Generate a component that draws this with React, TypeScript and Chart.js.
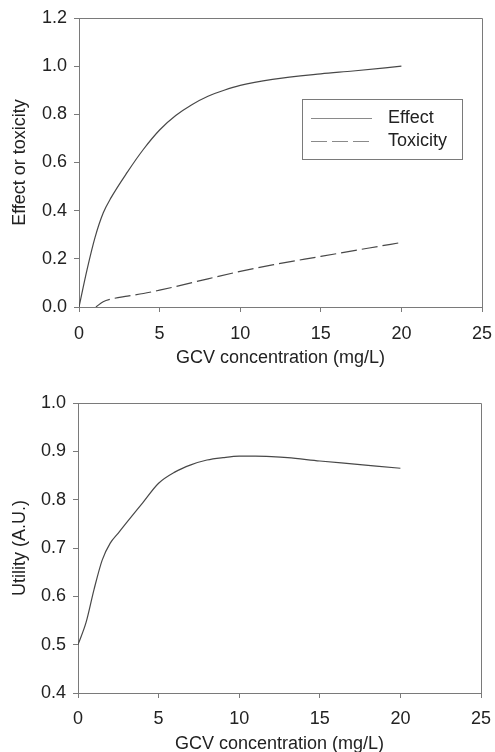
import React, { useEffect, useRef } from "react";
import { Chart, registerables } from "chart.js";

Chart.register(...registerables);

// ---- Data ----
const effectX = [0, 0.5, 1, 1.5, 2, 3, 4, 5, 6, 7, 8, 9, 10, 12, 15, 17, 20];
const effectY = [0, 0.155, 0.29, 0.39, 0.455, 0.56, 0.655, 0.735, 0.795, 0.84, 0.875, 0.9, 0.92, 0.945, 0.968, 0.98, 1.0];

const toxX = [1.05, 1.5, 2, 3, 4, 5, 6, 8, 10, 12, 15, 18, 20];
const toxY = [0, 0.022, 0.033, 0.045, 0.056, 0.07, 0.085, 0.117, 0.148, 0.175, 0.21, 0.245, 0.268];

const utilX = [0, 0.5, 1, 1.5, 2, 2.5, 3, 4, 5, 6, 7, 8, 9, 10, 11, 12, 13, 15, 17, 20];
const utilY = [0.5, 0.546, 0.615, 0.675, 0.71, 0.731, 0.752, 0.793, 0.834, 0.857, 0.872, 0.882, 0.887, 0.89, 0.89, 0.889, 0.887, 0.88, 0.874, 0.865];

const xTicks = [0, 5, 10, 15, 20, 25];
const topYTicks = [0, 0.2, 0.4, 0.6, 0.8, 1.0, 1.2];
const bottomYTicks = [0.4, 0.5, 0.6, 0.7, 0.8, 0.9, 1.0];

const seriesLabels = ["Effect", "Toxicity"];
const xTitle = "GCV concentration (mg/L)";
const topYTitle = "Effect or toxicity";
const bottomYTitle = "Utility (A.U.)";

const FONT = "'Liberation Sans', Arial, Helvetica, sans-serif";
const TEXT = "#222222";
const AXIS = "#7a7a7a";
const LINE = "#484848";

const pts = (xs: number[], ys: number[]) => xs.map((x, i) => ({ x, y: ys[i] }));

const framePlugin = {
  id: "frame",
  afterDatasetsDraw(chart: any) {
    const { ctx, chartArea } = chart;
    const l = Math.round(chartArea.left) + 0.5;
    const r = Math.round(chartArea.right) + 0.5;
    const t = Math.round(chartArea.top) + 0.5;
    const b = Math.round(chartArea.bottom) + 0.5;
    ctx.save();
    ctx.strokeStyle = AXIS;
    ctx.lineWidth = 1;
    ctx.beginPath();
    ctx.moveTo(l, t);
    ctx.lineTo(r, t);
    ctx.lineTo(r, b);
    ctx.stroke();
    ctx.restore();
  },
};

const boxLegendPlugin = {
  id: "boxLegend",
  afterDatasetsDraw(chart: any) {
    const opts = chart.options.plugins.boxLegend;
    if (!opts || !opts.show) return;
    const { ctx, chartArea } = chart;
    const bx = Math.round(chartArea.left + 223);
    const by = Math.round(chartArea.top + 81);
    const bw = 160;
    const bh = 60;
    ctx.save();
    ctx.fillStyle = "#ffffff";
    ctx.fillRect(bx, by, bw, bh);
    ctx.strokeStyle = AXIS;
    ctx.lineWidth = 1;
    ctx.strokeRect(bx + 0.5, by + 0.5, bw, bh);
    chart.data.datasets.forEach((ds: any, i: number) => {
      const cy = Math.round(by + 19 + i * 23) + 0.5;
      ctx.strokeStyle = "#8a8a8a";
      ctx.lineWidth = 1;
      ctx.setLineDash(ds.borderDash || []);
      ctx.beginPath();
      ctx.moveTo(bx + 9, cy);
      ctx.lineTo(bx + 70, cy);
      ctx.stroke();
      ctx.setLineDash([]);
      ctx.fillStyle = TEXT;
      ctx.font = `18px ${FONT}`;
      ctx.textBaseline = "middle";
      ctx.textAlign = "left";
      ctx.fillText(ds.label, bx + 86, cy);
    });
    ctx.restore();
  },
};

function makeConfig(
  datasets: any[],
  yMin: number,
  yMax: number,
  yTicks: number[],
  yTitle: string,
  pad: { top: number; right: number },
  yWidth: number,
  xHeight: number,
  xTickPad: number,
  xTitlePadBottom: number,
  showLegend: boolean
): any {
  return {
    type: "line",
    data: { datasets },
    plugins: [framePlugin, boxLegendPlugin],
    options: {
      responsive: false,
      animation: false,
      events: [],
      layout: { padding: { top: pad.top, right: pad.right, left: 0, bottom: 0 } },
      plugins: {
        legend: { display: false },
        tooltip: { enabled: false },
        boxLegend: { show: showLegend },
      },
      elements: { point: { radius: 0 } },
      scales: {
        x: {
          type: "linear",
          min: 0,
          max: 25,
          afterBuildTicks(scale: any) {
            scale.ticks = xTicks.map((v) => ({ value: v }));
          },
          afterFit(scale: any) {
            scale.height = xHeight;
            scale.paddingLeft = 0;
            scale.paddingRight = 0;
          },
          ticks: {
            color: TEXT,
            font: { family: FONT, size: 18 },
            padding: xTickPad,
            maxRotation: 0,
            callback: (v: number) => String(v),
          },
          grid: { drawOnChartArea: false, drawTicks: true, tickLength: 5, color: AXIS },
          border: { display: true, color: AXIS },
          title: {
            display: true,
            text: xTitle,
            color: TEXT,
            font: { family: FONT, size: 18 },
            padding: { top: 0, bottom: xTitlePadBottom },
          },
        },
        y: {
          type: "linear",
          min: yMin,
          max: yMax,
          afterBuildTicks(scale: any) {
            scale.ticks = yTicks.map((v) => ({ value: v }));
          },
          afterFit(scale: any) {
            scale.width = yWidth;
            scale.paddingTop = 0;
            scale.paddingBottom = 0;
          },
          ticks: {
            color: TEXT,
            font: { family: FONT, size: 18 },
            padding: 7,
            callback: (v: number) => Number(v).toFixed(1),
          },
          grid: { drawOnChartArea: false, drawTicks: true, tickLength: 5, color: AXIS },
          border: { display: true, color: AXIS },
          title: {
            display: true,
            text: yTitle,
            color: TEXT,
            font: { family: FONT, size: 18 },
            padding: { top: 9, bottom: 0 },
          },
        },
      },
    },
  };
}

export default function App() {
  const topRef = useRef<HTMLCanvasElement | null>(null);
  const botRef = useRef<HTMLCanvasElement | null>(null);

  useEffect(() => {
    const lineStyle = {
      borderColor: LINE,
      borderWidth: 1.2,
      fill: false,
      pointRadius: 0,
      cubicInterpolationMode: "monotone",
    };
    const top = new Chart(
      topRef.current as HTMLCanvasElement,
      makeConfig(
        [
          { ...lineStyle, label: seriesLabels[0], data: pts(effectX, effectY) },
          { ...lineStyle, label: seriesLabels[1], data: pts(toxX, toxY), borderDash: [16, 5] },
        ],
        0,
        1.2,
        topYTicks,
        topYTitle,
        { top: 18, right: 13 },
        79,
        69,
        11,
        7,
        true
      )
    );
    const bot = new Chart(
      botRef.current as HTMLCanvasElement,
      makeConfig(
        [{ ...lineStyle, label: "Utility", data: pts(utilX, utilY) }],
        0.4,
        1.0,
        bottomYTicks,
        bottomYTitle,
        { top: 27, right: 14 },
        78,
        59,
        10,
        -3,
        false
      )
    );
    return () => {
      top.destroy();
      bot.destroy();
    };
  }, []);

  return (
    <div style={{ position: "absolute", left: 0, top: 0, width: 495, height: 752, background: "#fff" }}>
      <canvas ref={topRef} width={495} height={376} style={{ display: "block", width: 495, height: 376 }} />
      <canvas ref={botRef} width={495} height={376} style={{ display: "block", width: 495, height: 376 }} />
    </div>
  );
}
